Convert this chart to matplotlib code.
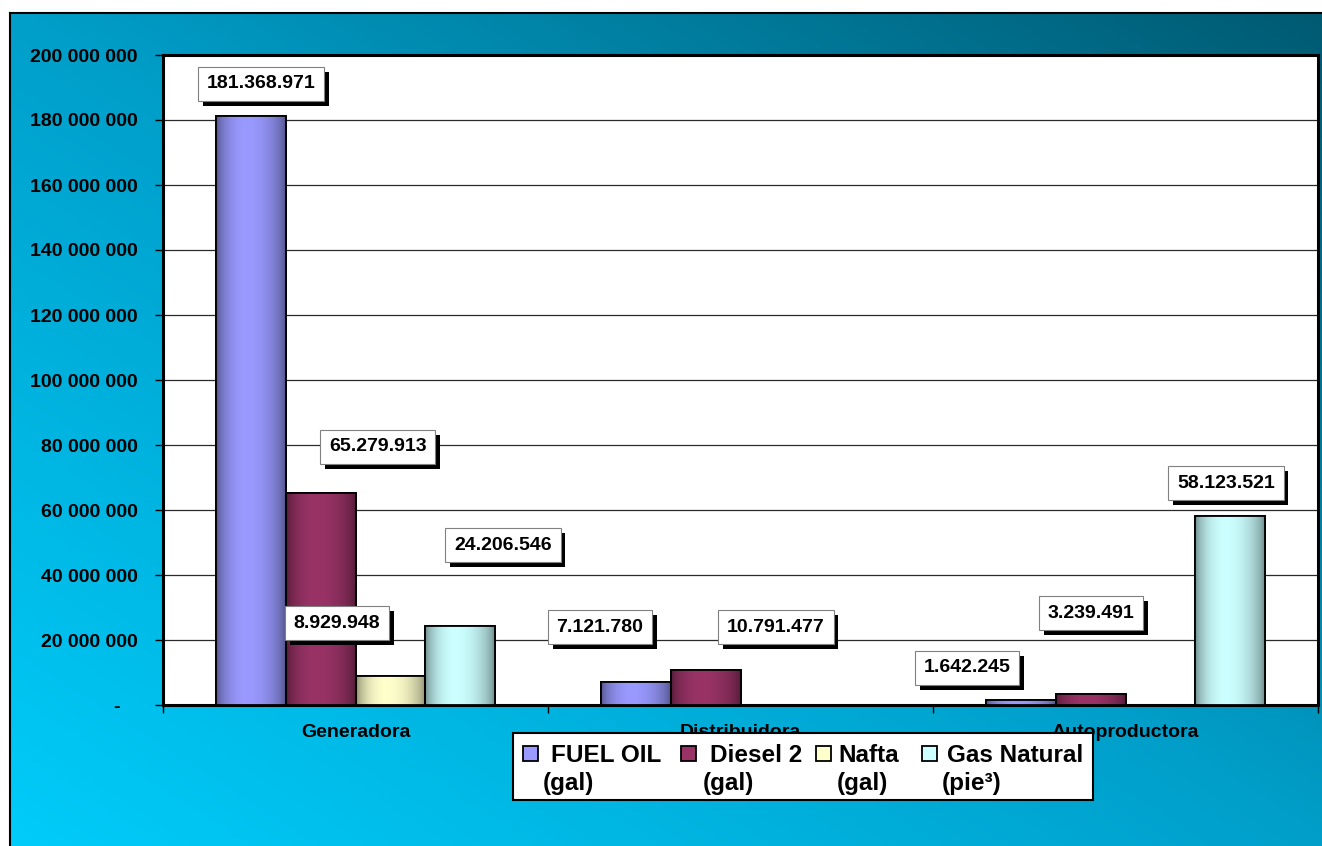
import numpy as np
import matplotlib
matplotlib.use("Agg")
import matplotlib.pyplot as plt
from matplotlib.patches import Rectangle
from matplotlib.colors import to_rgb, LinearSegmentedColormap
import matplotlib.patheffects as pe
from matplotlib.transforms import ScaledTranslation

plt.rcParams['font.family'] = ['Liberation Sans', 'DejaVu Sans']
plt.rcParams['font.weight'] = 'bold'

# ---------------- data ----------------
categories = ["Generadora", "Distribuidora", "Autoproductora"]
series_names = ["FUEL OIL", "Diesel 2", "Nafta", "Gas Natural"]
series_units = ["(gal)", "(gal)", "(gal)", "(pie³)"]
fuel_oil = [181368971, 7121780, 1642245]
diesel_2 = [65279913, 10791477, 3239491]
nafta = [8929948, 0, 0]
gas_natural = [24206546, 0, 58123521]
y_ticks = [0, 20000000, 40000000, 60000000, 80000000, 100000000,
           120000000, 140000000, 160000000, 180000000, 200000000]
y_tick_labels = ["-", "20 000 000", "40 000 000", "60 000 000", "80 000 000",
                 "100 000 000", "120 000 000", "140 000 000", "160 000 000",
                 "180 000 000", "200 000 000"]

series_values = [fuel_oil, diesel_2, nafta, gas_natural]
colors = ["#9999FF", "#993366", "#FFFFCC", "#CCFFFF"]

# label box positions (series index, category index) -> (x, y) in data coords
label_pos = {
    (0, 0): (-0.245, 191.1e6),
    (1, 0): (0.058, 79.4e6),
    (3, 0): (0.383, 49.2e6),
    (2, 0): (-0.048, 25.2e6),
    (0, 1): (0.635, 24.0e6),
    (1, 1): (1.092, 24.0e6),
    (0, 2): (1.588, 11.4e6),
    (1, 2): (1.910, 28.3e6),
    (3, 2): (2.261, 68.3e6),
}

W, H = 1322, 846
fig = plt.figure(figsize=(W / 100, H / 100), dpi=100)
fig.patch.set_facecolor("white")

def fx(x):
    return x / W

def fy(y):
    return 1 - y / H

# ---------------- background gradient ----------------
bg = fig.add_axes([fx(10), 0, 1 - fx(10), fy(13)], zorder=-5)
u = np.linspace(0, 1, 400)
v = np.linspace(0, 1, 300)
U, V = np.meshgrid(u, v)
T = (U + V) / 2
bg_cmap = LinearSegmentedColormap.from_list(
    "bg", [(0, "#00CCFA"), (0.5, "#009FCA"), (1, "#005A72")])
bg.imshow(T, cmap=bg_cmap, origin="lower", aspect="auto",
          extent=[0, 1, 0, 1], vmin=0, vmax=1)
bg.set_xticks([])
bg.set_yticks([])
for name, s in bg.spines.items():
    if name in ("right", "bottom"):
        s.set_visible(False)
    else:
        s.set_linewidth(1.5)
        s.set_color("black")

# ---------------- main axes ----------------
ax = fig.add_axes([fx(163), fy(705), fx(1318) - fx(163), fy(55) - fy(705)])
ax.set_facecolor("white")

n = len(series_values)
bw = 0.1818
x = np.arange(len(categories))

def shade_img(color, n=96):
    c = np.array(to_rgb(color))
    s = np.linspace(0, 1, n)
    peak = 0.43
    xx = np.where(s < peak, s / peak * 0.5, 0.5 + (s - peak) / (1 - peak) * 0.5)
    p = np.sin(np.pi * xx) ** 0.55
    dark = c * 0.5
    img = dark[None, :] + (c - dark)[None, :] * p[:, None]
    return img[None, :, :]

for i, (vals, col) in enumerate(zip(series_values, colors)):
    offs = (i - (n - 1) / 2) * bw
    bars = ax.bar(x + offs, vals, width=bw, facecolor=col,
                  edgecolor="black", linewidth=1.3, zorder=3)
    for b, val in zip(bars, vals):
        if val <= 0:
            continue
        bx, by = b.get_x(), b.get_y()
        im = ax.imshow(shade_img(col), extent=[bx, bx + b.get_width(), by, by + b.get_height()],
                       aspect="auto", zorder=3.5, interpolation="bilinear")
        im.set_clip_path(b)
        ax.add_patch(Rectangle((bx, by), b.get_width(), b.get_height(),
                               facecolor="none", edgecolor="black", lw=1.3, zorder=4))

ax.set_xlim(-0.5, len(categories) - 0.5)
ax.set_ylim(0, 200000000)

ax.set_yticks(y_ticks)
ax.set_yticklabels(y_tick_labels)
ax.tick_params(axis="y", length=6, width=1, pad=12, labelsize=14, direction="out")
for lab in ax.get_yticklabels():
    lab.set_fontweight("bold")
zero_lab = ax.get_yticklabels()[0]
zero_lab.set_transform(zero_lab.get_transform() +
                       ScaledTranslation(-18 / 100, 0, fig.dpi_scale_trans))

ax.set_xticks(np.arange(-0.5, len(categories), 1.0))
ax.set_xticklabels([])
ax.set_xticks(x, minor=True)
ax.set_xticklabels(categories, minor=True)
ax.tick_params(axis="x", which="major", length=6, width=1, direction="out")
ax.tick_params(axis="x", which="minor", length=0, pad=14, labelsize=14)
for lab in ax.get_xticklabels(minor=True):
    lab.set_fontweight("bold")

ax.yaxis.grid(True, color="#2a2a2a", linewidth=0.9)
ax.set_axisbelow(True)
for name, s in ax.spines.items():
    s.set_color("black")
    s.set_linewidth(2.2)

# ---------------- value labels ----------------
for (si, ci), (lx, ly) in label_pos.items():
    val = series_values[si][ci]
    txt = f"{val:,}".replace(",", ".")
    t = ax.text(lx, ly, txt, ha="center", va="center", fontsize=14,
                fontweight="bold", zorder=6,
                bbox=dict(boxstyle="square,pad=0.45", facecolor="white",
                          edgecolor="#808080", linewidth=0.8))
    t.get_bbox_patch().set_path_effects([
        pe.SimplePatchShadow(offset=(3.5, -3.5), shadow_rgbFace="black", alpha=1.0),
        pe.Normal()])

# ---------------- legend (manual) ----------------
fig.patches.append(Rectangle((fx(513), fy(800)), fx(1093) - fx(513), fy(733) - fy(800),
                             transform=fig.transFigure, facecolor="white",
                             edgecolor="black", linewidth=1.5, zorder=10))
sq_x = [523, 681, 816, 922]
t1_x = [551, 710, 838, 947]
t2_x = [543, 703, 837, 942]
for i in range(n):
    fig.patches.append(Rectangle((fx(sq_x[i]), fy(761)), fx(15), fy(746) - fy(761),
                                 transform=fig.transFigure, facecolor=colors[i],
                                 edgecolor="black", linewidth=1.3, zorder=11))
    fig.text(fx(t1_x[i]), fy(755), series_names[i], ha="left", va="center",
             fontsize=17.5, fontweight="bold", zorder=12)
    fig.text(fx(t2_x[i]), fy(783), series_units[i], ha="left", va="center",
             fontsize=17.5, fontweight="bold", zorder=12)

fig.savefig("out.png", dpi=100)
